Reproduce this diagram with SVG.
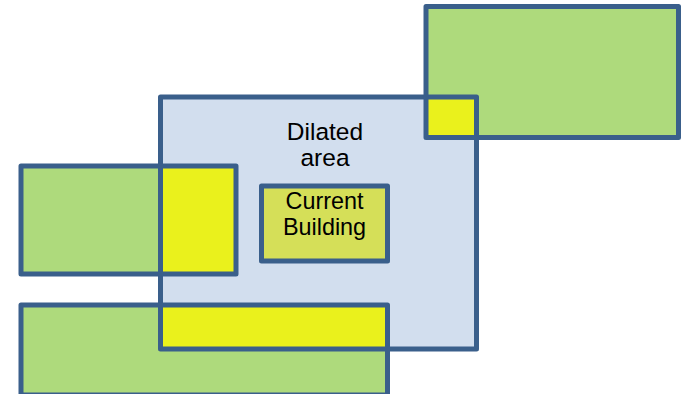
<svg xmlns="http://www.w3.org/2000/svg" width="685" height="394" viewBox="0 0 685 394">
<style>
.ol{fill:none;stroke:#3A5F8B;stroke-width:5;stroke-linejoin:round}
.green{fill:#AEDA7C}
.yel{fill:#EAF11C}
.t{font-family:"Liberation Sans",Arial,sans-serif;fill:#000;text-anchor:middle}
</style>
<rect width="685" height="394" fill="#fff"/>
<g id="dilated">
<rect x="160.5" y="97" width="316" height="252" fill="#D2DEEE"/>
</g>
<g id="neighbor-top-right">
<rect class="green" x="426" y="6.5" width="252.5" height="131"/>
</g>
<g id="neighbor-left">
<rect class="green" x="21" y="166" width="215" height="108"/>
</g>
<g id="neighbor-bottom">
<rect class="green" x="21" y="305" width="366.5" height="90"/>
</g>
<g id="overlaps">
<rect class="yel" x="160.5" y="166" width="75.5" height="108"/>
<rect class="yel" x="160.5" y="305" width="227" height="44"/>
<rect class="yel" x="426" y="97" width="50.5" height="40.5"/>
</g>
<g id="outlines">
<rect class="ol" x="160.5" y="97" width="316" height="252"/>
<rect class="ol" x="426" y="6.5" width="252.5" height="131"/>
<rect class="ol" x="21" y="166" width="215" height="108"/>
<rect class="ol" x="21" y="305" width="366.5" height="90"/>
</g>
<g id="current-building">
<rect x="261.5" y="186" width="126" height="75" fill="#D5DF58" stroke="#3A5F8B" stroke-width="5" stroke-linejoin="round"/>
<text class="t" x="324.5" y="208.7" font-size="23.4">Current</text>
<text class="t" x="324.5" y="234.7" font-size="23.4">Building</text>
</g>
<g id="dilated-label">
<text class="t" x="325" y="140" font-size="24.5">Dilated</text>
<text class="t" x="325" y="165.5" font-size="24.5">area</text>
</g>
</svg>
